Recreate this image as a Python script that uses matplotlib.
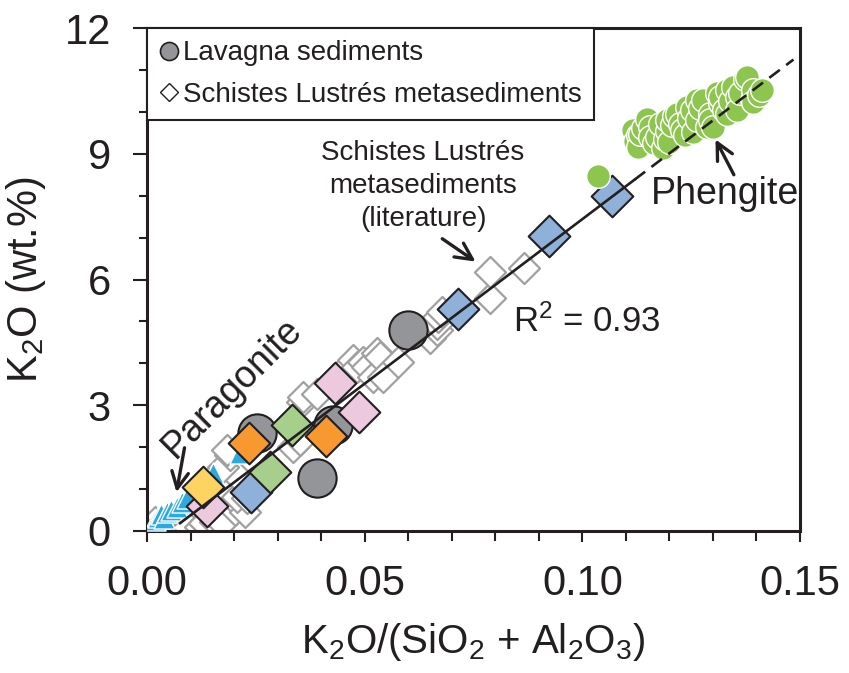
import matplotlib
matplotlib.use("Agg")
import matplotlib.pyplot as plt
from matplotlib.ticker import MultipleLocator, FormatStrFormatter
from matplotlib.lines import Line2D
import numpy as np

plt.rcParams['font.family'] = ['Liberation Sans', 'DejaVu Sans']
plt.rcParams['mathtext.default'] = 'regular'

# ---------------- data ----------------
# Lavagna sediments (grey circles)
lav_x = [0.0599, 0.0390, 0.0252, 0.0428]
lav_y = [4.79, 1.27, 2.33, 2.53]

# Schistes Lustrés metasediments (literature) - open diamonds
sl_x = [0.0018, 0.0030, 0.0095, 0.0122, 0.0130, 0.0156, 0.0172, 0.0202, 0.0214, 0.0225,
        0.0206, 0.0229, 0.0210, 0.0175, 0.0191, 0.0183, 0.0336, 0.0351, 0.0409, 0.0355,
        0.0359, 0.0390, 0.0459, 0.0474, 0.0482, 0.0497, 0.0505, 0.0520, 0.0528, 0.0535,
        0.0543, 0.0577, 0.0650, 0.0666, 0.0666, 0.0669, 0.0677, 0.0788, 0.0788, 0.0865]
sl_y = [0.22, 0.14, 0.10, 0.10, 0.18, 0.22, 0.18, 0.50, 0.62, 0.46,
        0.82, 0.78, 1.30, 1.53, 1.81, 1.93, 2.01, 2.17, 2.49, 3.08,
        3.20, 3.28, 3.92, 4.08, 3.92, 4.04, 3.92, 3.68, 4.24, 4.15,
        3.68, 4.04, 4.60, 4.79, 4.95, 5.11, 5.23, 5.55, 6.18, 6.28]

# Coloured diamonds (this study, by colour)
blue_x = [0.1069, 0.0924, 0.0714, 0.0240]
blue_y = [7.99, 7.04, 5.29, 0.94]
pink_x = [0.0433, 0.0486, 0.0138]
pink_y = [3.54, 2.85, 0.60]
green_x = [0.0332, 0.0283]
green_y = [2.53, 1.41]
orange_x = [0.0235, 0.0411]
orange_y = [2.09, 2.27]
yellow_x = [0.0129]
yellow_y = [1.06]

# Paragonite (blue triangles)
par_x = [0.0018, 0.0026, 0.0033, 0.0040, 0.0045, 0.0055, 0.0068, 0.0080, 0.0091, 0.0152, 0.0214]
par_y = [0.26, 0.34, 0.40, 0.30, 0.46, 0.50, 0.58, 0.70, 0.78, 1.38, 1.85]

# Phengite (green circles)
phe_x = [0.1036, 0.1117, 0.1120, 0.1129, 0.1129, 0.1133, 0.1140, 0.1148, 0.1156, 0.1156,
         0.1165, 0.1171, 0.1179, 0.1186, 0.1190, 0.1194, 0.1194, 0.1200, 0.1205, 0.1210,
         0.1217, 0.1224, 0.1228, 0.1235, 0.1240, 0.1245, 0.1251, 0.1255, 0.1263, 0.1263,
         0.1270, 0.1278, 0.1286, 0.1293, 0.1293, 0.1301, 0.1309, 0.1316, 0.1316, 0.1325,
         0.1332, 0.1332, 0.1340, 0.1347, 0.1355, 0.1355, 0.1362, 0.1374, 0.1378, 0.1389,
         0.1393, 0.1393, 0.1405, 0.1412]
phe_y = [8.47, 9.56, 9.30, 9.44, 9.17, 9.48, 9.62, 9.84, 9.64, 9.40,
         9.25, 9.40, 9.72, 9.13, 9.36, 9.55, 9.80, 9.28, 9.68, 9.90,
         9.96, 9.72, 9.56, 9.45, 10.12, 9.85, 10.04, 9.52, 9.80, 10.28,
         10.10, 10.28, 9.64, 9.96, 9.80, 9.64, 10.44, 10.20, 10.36, 10.05,
         9.96, 10.52, 10.25, 10.60, 10.36, 10.04, 10.45, 10.79, 10.84, 10.28,
         10.52, 10.24, 10.40, 10.52]

# Regression line
fit_slope = 78.5
fit_intercept = -0.41
fit_solid = [0.0076, 0.112]
fit_dashed = [0.112, 0.1485]

x_ticks = [0.00, 0.05, 0.10, 0.15]
y_ticks = [0, 3, 6, 9, 12]

# ---------------- figure ----------------
fig = plt.figure(figsize=(8.49, 6.73), dpi=100)
ax = fig.add_axes([147/849, 1-531/673, (800-147)/849, (531-28)/673])

ax.scatter(sl_x, sl_y, marker='D', s=250, facecolor='white', edgecolor='#a0a0a0',
           linewidth=1.6, zorder=2)
ax.scatter(par_x, par_y, marker='^', s=230, facecolor='#29abe2', edgecolor='white',
           linewidth=1.0, zorder=3)
ax.scatter(lav_x, lav_y, marker='o', s=760, facecolor='#939598', edgecolor='#231f20',
           linewidth=1.5, zorder=4)
for xs, ys, c in [(blue_x, blue_y, '#8fb0d9'), (pink_x, pink_y, '#ecc9df'),
                  (green_x, green_y, '#a6cf8b'), (orange_x, orange_y, '#f7992f'),
                  (yellow_x, yellow_y, '#fdd361')]:
    ax.scatter(xs, ys, marker='D', s=450, facecolor=c, edgecolor='#231f20',
               linewidth=1.5, zorder=5)
ax.scatter(phe_x, phe_y, marker='o', s=290, facecolor='#8dc64f', edgecolor='white',
           linewidth=1.0, zorder=5)

xs = np.array(fit_solid)
ax.plot(xs, fit_slope*xs + fit_intercept, color='#231f20', lw=1.9, zorder=6)
xd = np.array(fit_dashed)
ax.plot(xd, fit_slope*xd + fit_intercept, color='#231f20', lw=1.9, zorder=6,
        dashes=(5, 3))

ax.set_xlim(0, 0.15)
ax.set_ylim(0, 12)
ax.set_xticks(x_ticks)
ax.set_yticks(y_ticks)
ax.xaxis.set_major_formatter(FormatStrFormatter('%.2f'))
ax.xaxis.set_minor_locator(MultipleLocator(0.01))
ax.yaxis.set_minor_locator(MultipleLocator(1))
ax.tick_params(which='both', direction='out', width=1.5, color='#231f20',
               labelsize=30, labelcolor='#231f20')
ax.tick_params(axis='x', which='major', length=8, pad=16)
ax.tick_params(axis='x', which='minor', length=7)
ax.tick_params(axis='y', which='major', length=10, pad=16)
ax.tick_params(axis='y', which='minor', length=6)
for sp in ax.spines.values():
    sp.set_linewidth(2.2)
    sp.set_color('#231f20')

ax.set_xlabel(r'K$_2$O/(SiO$_2$ + Al$_2$O$_3$)', fontsize=29, color='#231f20', labelpad=12)
ax.set_ylabel(r'K$_2$O (wt.%)', fontsize=30, color='#231f20', labelpad=12)

# annotations
ax.text(0.0634, 8.23, 'Schistes Lustrés\nmetasediments\n(literature)', ha='center',
        va='center', fontsize=20, color='#231f20', linespacing=1.33)
ax.annotate('', xy=(0.0760, 6.39), xytext=(0.0673, 7.01),
            arrowprops=dict(arrowstyle='->', lw=2.4, color='#231f20', mutation_scale=30))
ax.text(0.1328, 7.80, 'Phengite', ha='center', va='baseline', fontsize=27, color='#231f20')
ax.annotate('', xy=(0.1303, 9.40), xytext=(0.1351, 8.44),
            arrowprops=dict(arrowstyle='->', lw=2.4, color='#231f20', mutation_scale=30))
ax.text(0.0841, 4.75, r'R$^2$ = 0.93', ha='left', va='baseline', fontsize=25, color='#231f20')
ax.text(0.0195, 3.41, 'Paragonite', ha='center', va='center', rotation=45,
        fontsize=27, color='#231f20', rotation_mode='anchor')
ax.annotate('', xy=(0.00666, 0.86), xytext=(0.00873, 2.05),
            arrowprops=dict(arrowstyle='->', lw=2.4, color='#231f20', mutation_scale=30))

handles = [Line2D([], [], marker='o', ls='none', markersize=13, markerfacecolor='#939598',
                  markeredgecolor='#231f20', markeredgewidth=1.2),
           Line2D([], [], marker='D', ls='none', markersize=9.5, markerfacecolor='white',
                  markeredgecolor='#231f20', markeredgewidth=1.0)]
leg = ax.legend(handles, ['Lavagna sediments', 'Schistes Lustrés metasediments'],
                loc='upper left', bbox_to_anchor=(0, 1), borderaxespad=0, fontsize=20,
                frameon=True, fancybox=False, handlelength=0.7, handletextpad=0.15,
                labelspacing=0.55, borderpad=0.45)
leg.get_frame().set_edgecolor('#231f20')
leg.get_frame().set_linewidth(1.5)
leg.get_frame().set_alpha(1)
leg.set_zorder(10)
for t in leg.get_texts():
    t.set_color('#231f20')

fig.savefig('out.png', dpi=100)
